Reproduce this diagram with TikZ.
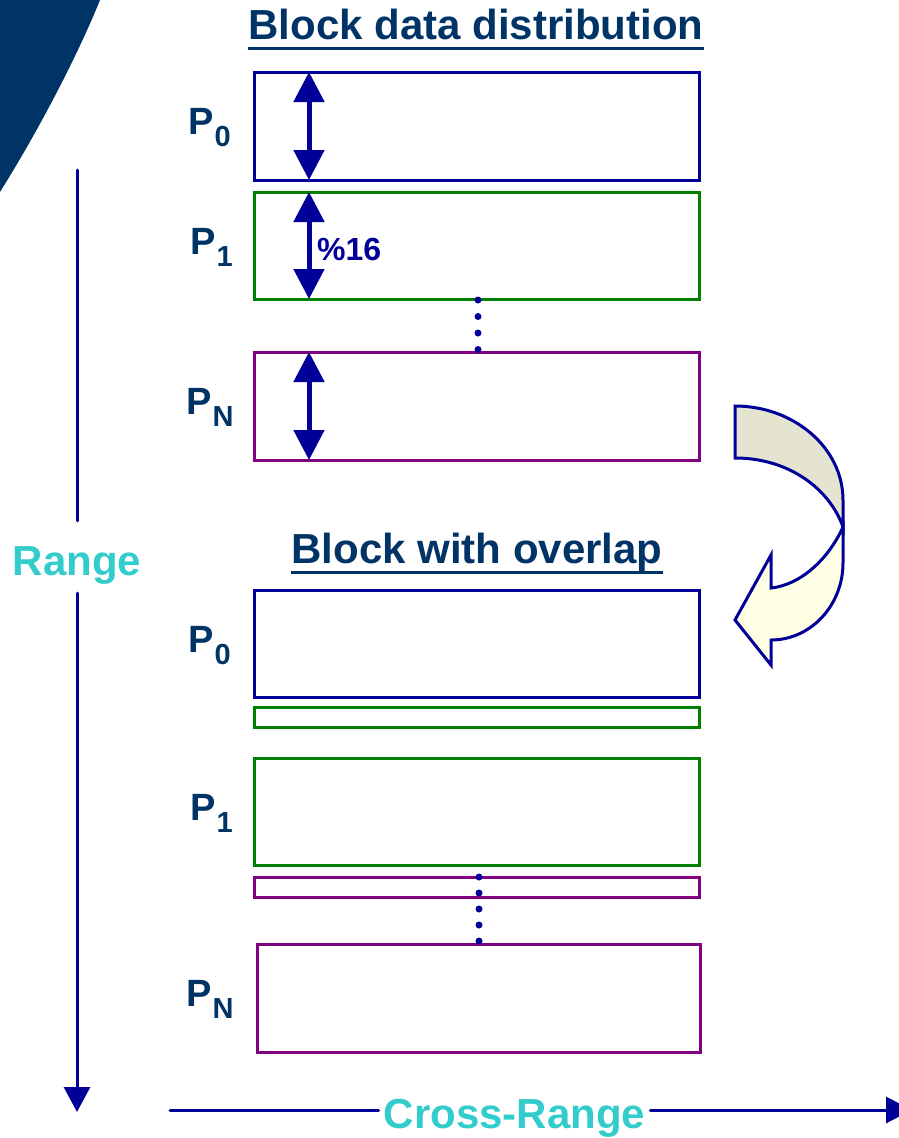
\documentclass[tikz,border=0pt]{standalone}
\usepackage{fontspec}
\setmainfont{Liberation Sans}
\usetikzlibrary{arrows.meta}
\definecolor{navytext}{RGB}{0,51,102}
\definecolor{boxblue}{RGB}{0,0,153}
\definecolor{boxgreen}{RGB}{0,128,0}
\definecolor{boxpurple}{RGB}{128,0,128}
\definecolor{axiscyan}{RGB}{51,204,204}
\definecolor{bandgray}{RGB}{228,228,208}
\definecolor{bandcream}{RGB}{255,255,230}
\newcommand{\Psub}[1]{P\kern1pt\raisebox{-12pt}{\fontsize{29}{29}\selectfont #1}}
\begin{document}
\begin{tikzpicture}[x=1pt,y=-1pt,line join=miter,
		part/.style={draw=#1,line width=3pt,minimum width=445pt,inner sep=0pt,outer sep=0pt},
		plabel/.style={anchor=base west,inner sep=0pt,text=navytext,font=\fontsize{38}{40}\selectfont\bfseries},
		title/.style={anchor=base,inner sep=0pt,text=navytext,font=\fontsize{42}{44}\selectfont\bfseries},
		axislabel/.style={text=axiscyan,font=\fontsize{42}{44}\selectfont\bfseries,text height=36pt,text depth=0pt},
		axis/.style={boxblue,line width=3pt,line cap=round},
		split/.style={boxblue,line width=5pt,{Triangle[width=30pt,length=30pt]}-{Triangle[width=30pt,length=30pt]}}]
	\useasboundingbox (0,0) rectangle (899,1138);
	\fill[navytext] (0,0) -- (100,0) .. controls (82,45) and (45,120) .. (0,192) -- cycle;
	
	\node[title] (t1) at (476,39) {Block data distribution};
	\draw[navytext,line width=3pt] ([yshift=-9pt]t1.base west) -- ([yshift=-9pt]t1.base east);
	\node[title] (t2) at (477,563) {Block with overlap};
	\draw[navytext,line width=3pt] ([yshift=-9pt]t2.base west) -- ([yshift=-9pt]t2.base east);
	
	\foreach \nm/\col/\cy/\h in {b0/boxblue/126/108, b1/boxgreen/245.5/107, bN/boxpurple/406/108,
		c0/boxblue/643.5/107, o0/boxgreen/717/20, c1/boxgreen/811.5/107, o1/boxpurple/887/20}{
		\node[part=\col,minimum height=\h pt] (\nm) at (476.5,\cy) {};
	}
	\node[part=boxpurple,minimum width=443pt,minimum height=108pt] (cN) at (478.5,998) {};
	
	\foreach \nm in {b0,b1,bN}{
		\draw[split] ([xshift=55pt]\nm.north west) -- ([xshift=55pt]\nm.south west);
	}
	\node[anchor=base west,inner sep=0pt,text=boxblue,font=\fontsize{32}{34}\selectfont\bfseries] (pct) at (317,260) {\%16};
	
	\foreach \y in {300,316.5,333,349.5}{
		\fill[boxblue] (478,\y) circle (3.5pt);
	}
	\foreach \y in {877,893,909,925,941}{
		\fill[boxblue] (479,\y) circle (3.5pt);
	}
	
	\node[plabel] (lb0) at (188,134) {\Psub{0}};
	\node[plabel] (lb1) at (190,254) {\Psub{1}};
	\node[plabel] (lbN) at (186,414) {\Psub{N}};
	\node[plabel] (lc0) at (188,652) {\Psub{0}};
	\node[plabel] (lc1) at (190,820) {\Psub{1}};
	\node[plabel] (lcN) at (186,1006) {\Psub{N}};
	
	\filldraw[fill=bandgray,draw=boxblue,line width=3pt] (735,406) .. controls (794,406) and (843,448) .. (843,500)
		-- (843,527) .. controls (830,490) and (790,458) .. (735,458) -- cycle;
	\filldraw[fill=bandcream,draw=boxblue,line width=3pt] (843,527) -- (843,563) .. controls (843,605) and (811,640) .. (771,640)
		-- (771,665) -- (735,620) -- (771,555) -- (771,588) .. controls (800,585) and (828,560) .. (843,527) -- cycle;
	
	\coordinate (rtop) at (77,170);
	\coordinate (rend) at (77,1112);
	\node[axislabel,inner xsep=2pt,inner ysep=18pt] (range) at (77,557) {Range};
	\draw[axis] (rtop) -- (range);
	\draw[axis,-{Triangle[width=26pt,length=25pt]}] (range) -- (rend);
	
	\coordinate (cstart) at (170,1110);
	\coordinate (cend) at (912,1110);
	\node[axislabel,inner xsep=5pt] (cross) at (514.5,1110) {Cross-Range};
	\draw[axis] (cstart) -- (cross);
	\draw[axis,-{Triangle[width=26pt,length=26pt]}] (cross) -- (cend);
\end{tikzpicture}
\end{document}
